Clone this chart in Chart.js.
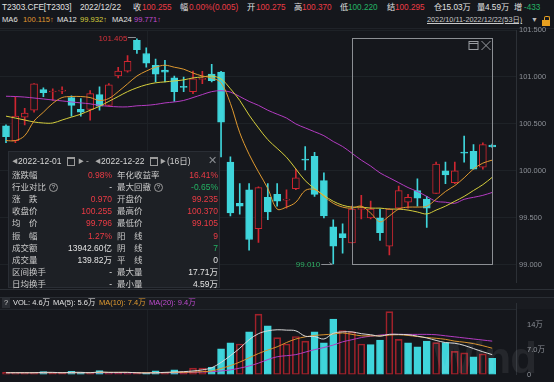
<!DOCTYPE html>
<html><head><meta charset="utf-8">
<script src="https://cdn.jsdelivr.net/npm/chart.js@4"></script>
<style>
body{margin:0;background:#15171c;width:554px;height:382px;overflow:hidden;position:relative;font-family:"Liberation Sans","Noto Sans CJK SC",sans-serif;color:#e2e2e2}
.t{position:absolute;white-space:nowrap;line-height:12px;height:12px}
.h1{font-size:8.2px;top:2px}
.h2{font-size:7.6px;top:14px}
.v{font-size:7.5px;top:297px}
canvas{position:absolute;left:0}
.ln{position:absolute;background:#262a30}
#panel{position:absolute;left:8px;top:151px;width:212px;height:137px;background:#1d2025;border:1px solid #2a2e35;box-sizing:border-box;font-size:8.5px}
.q{display:inline-block;width:7px;height:7px;border:1px solid #9a9a9a;border-radius:50%;font-size:6px;line-height:7px;text-align:center;color:#bbb;margin-left:3px;vertical-align:1px}
.cal{position:absolute;width:6px;height:6px;border:1px solid #9a9a9a;border-top-width:2px}
</style></head><body>

<!-- header -->
<span class="t h1" style="left:2px">T2303.CFE[T2303]</span>
<span class="t h1" style="left:80px">2022/12/22</span>
<span class="t h1" style="left:133px">收</span><span class="t h1" style="left:142px;color:#ec3b45">100.255</span>
<span class="t h1" style="left:180px">幅</span><span class="t h1" style="left:189px;color:#ec3b45">0.00%(0.005)</span>
<span class="t h1" style="left:247px">开</span><span class="t h1" style="left:256px;color:#ec3b45">100.275</span>
<span class="t h1" style="left:294px">高</span><span class="t h1" style="left:302px;color:#ec3b45">100.370</span>
<span class="t h1" style="left:340px">低</span><span class="t h1" style="left:348px;color:#24b364">100.220</span>
<span class="t h1" style="left:387px">结</span><span class="t h1" style="left:395px;color:#ec3b45">100.295</span>
<span class="t h1" style="left:434px">仓</span><span class="t h1" style="left:442px">15.03万</span>
<span class="t h1" style="left:477px">量</span><span class="t h1" style="left:485px">4.59万</span>
<span class="t h1" style="left:514px">增</span><span class="t h1" style="left:524px;color:#24b364">-433</span>

<span class="t h2" style="left:2px">MA6</span><span class="t h2" style="left:23px;color:#e09a30">100.115↑</span>
<span class="t h2" style="left:57px">MA12</span><span class="t h2" style="left:80px;color:#d6cf3c">99.932↑</span>
<span class="t h2" style="left:112px">MA24</span><span class="t h2" style="left:134px;color:#c04bd0">99.771↑</span>
<span class="t h2" style="left:427px;color:#c9c9c9;text-decoration:underline;font-size:7.3px">2022/10/11-2022/12/22(53日)</span>
<span class="t h2" style="left:531px;color:#bbb;font-size:7px">▼</span>
<div style="position:absolute;left:542px;top:20px;width:8px;height:6px;background:#e8a020"></div>
<div style="position:absolute;left:544px;top:16px;width:4px;height:4px;border:1px solid #e8a020;border-bottom:none;border-radius:2px 2px 0 0"></div>

<div class="ln" style="left:0;top:28px;width:554px;height:1px;background:#202329"></div>
<div class="ln" style="left:147px;top:30px;width:1px;height:258px;background:#1d2126"></div>
<div class="ln" style="left:0;top:289px;width:554px;height:1px;background:#2c3036"></div>
<div class="ln" style="left:0;top:297px;width:554px;height:12px;background:#191b20"></div>
<div class="ln" style="left:0;top:297px;width:554px;height:1px;background:#2a2e34"></div>
<div class="ln" style="left:0;top:309px;width:517px;height:1px;background:#23272d"></div>
<div class="ln" style="left:147px;top:310px;width:1px;height:70px;background:#1d2126"></div>

<canvas id="price" width="554" height="268" style="top:22px"></canvas>
<canvas id="vol" width="554" height="86" style="top:296px"></canvas>

<!-- volume header -->
<div style="position:absolute;left:2px;top:298px;width:8px;height:10px;background:#2a2d33"></div>
<span class="t v" style="left:4px;color:#ccc">?</span>
<span class="t v" style="left:13px">VOL: 4.6万</span>
<span class="t v" style="left:53px">MA(5): 5.6万</span>
<span class="t v" style="left:99px;color:#e09a30">MA(10): 7.4万</span>
<span class="t v" style="left:149px;color:#c04bd0">MA(20): 9.4万</span>

<div style="position:absolute;left:433px;top:333px;font-size:44px;font-weight:bold;color:rgba(255,255,255,0.07);letter-spacing:-1px">Wind</div>

<div id="panel"></div>

<script>
// 日期（53个交易日）
const dates = ['10-11','10-12','10-13','10-14','10-17','10-18','10-19','10-20','10-21','10-24','10-25','10-26','10-27','10-28','10-31',
  '11-01','11-02','11-03','11-04','11-07','11-08','11-09','11-10','11-11','11-14','11-15','11-16','11-17','11-18','11-21','11-22','11-23','11-24','11-25','11-28','11-29','11-30',
  '12-01','12-02','12-05','12-06','12-07','12-08','12-09','12-12','12-13','12-14','12-15','12-16','12-19','12-20','12-21','12-22'];
const rangeStart = 37; // 2022-12-01

// K线
const opens = [100.479,100.323,100.573,100.646,100.865,100.84,100.85,100.781,100.656,100.656,100.813,100.698,101.01,101.063,101.39,101.25,101.125,101.073,100.99,100.9,100.844,100.975,101.03,101.052,100.094,99.656,99.80,99.385,99.72,99.75,99.69,99.8125,100.125,100.156,99.896,99.406,99.333,99.235,99.59,99.50,99.50,99.198,99.604,99.667,99.79,99.70,99.76,100.0,99.875,100.2,100.208,100.04,100.275];
const highs = [100.49,100.79,100.667,100.93,100.885,100.875,100.896,100.80,100.77,100.854,100.896,100.93,101.104,101.229,101.405,101.31,101.19,101.177,101.01,101.0,101.063,101.06,101.135,101.06,100.15,99.865,99.865,99.83,99.865,99.865,99.80,100.02,100.26,100.198,99.98,99.479,99.4375,99.625,99.74,99.68,99.594,99.60,99.84,99.75,99.917,99.73,100.094,100.094,100.094,100.37,100.28,100.30,100.285];
const lows = [100.30,100.30,100.49,100.625,100.79,100.75,100.823,100.583,100.583,100.54,100.646,100.69,100.99,101.05,101.25,101.104,100.948,100.948,100.74,100.844,100.823,100.93,100.948,100.15,99.52,99.54,99.156,99.24,99.48,99.625,99.604,99.80,100.01,99.73,99.50,99.010,99.125,99.235,99.49,99.49,99.26,99.105,99.59,99.604,99.625,99.40,99.76,99.865,99.865,100.094,100.02,100.02,100.25];
const closes = [100.365,100.583,100.615,100.927,100.833,100.845,100.855,100.698,100.625,100.823,100.688,100.917,101.063,101.167,101.29,101.146,101.03,101.05,100.844,100.89,100.979,100.985,100.96,100.52,99.552,99.625,99.27,99.823,99.5625,99.677,99.70,99.927,100.115,99.75,99.52,99.198,99.29,99.594,99.60,99.594,99.344,99.594,99.79,99.72,99.71,99.604,100.073,99.958,100.0,100.19,100.02,100.28,100.255];

// 均线
const ma6 = [100.323,100.323,100.375,100.531,100.625,100.719,100.781,100.792,100.792,100.781,100.750,100.771,100.844,100.927,101.010,101.063,101.104,101.125,101.104,101.083,101.042,101.010,100.990,100.938,100.719,100.406,100.177,99.990,99.813,99.594,99.615,99.667,99.792,99.802,99.729,99.656,99.615,99.604,99.625,99.552,99.458,99.521,99.594,99.615,99.615,99.625,99.698,99.781,99.844,99.927,100.021,100.083,100.115];
const ma12 = [100.583,100.563,100.542,100.521,100.510,100.510,100.542,100.573,100.604,100.646,100.688,100.740,100.792,100.844,100.885,100.917,100.938,100.948,100.958,100.969,100.990,101.000,101.010,100.979,100.875,100.750,100.594,100.458,100.333,100.240,100.146,100.021,99.896,99.813,99.740,99.677,99.635,99.615,99.615,99.604,99.604,99.594,99.594,99.583,99.563,99.542,99.583,99.625,99.677,99.729,99.792,99.854,99.932];
const ma24 = [100.795,100.792,100.786,100.776,100.766,100.755,100.745,100.734,100.724,100.714,100.698,100.688,100.682,100.682,100.693,100.698,100.708,100.724,100.734,100.750,100.781,100.813,100.844,100.854,100.839,100.792,100.740,100.698,100.646,100.604,100.563,100.500,100.458,100.417,100.375,100.313,100.260,100.188,100.115,100.052,99.979,99.927,99.875,99.823,99.781,99.729,99.677,99.667,99.656,99.698,99.719,99.740,99.771];

// 成交量（万手）
const vols = [0.6,0.5,0.4,0.6,0.8,0.3,0.3,0.9,0.7,0.4,1.1,0.4,0.3,0.4,0.3,0.6,1.0,0.4,1.3,0.8,1.8,1.8,2.0,7.2,8.9,8.6,12.0,17.0,13.7,10.4,8.6,10.7,9.4,12.0,8.9,15.6,12.4,12.0,8.6,8.4,9.7,17.71,9.9,8.9,7.8,9.4,9.0,9.0,6.5,6.1,5.0,5.8,4.59];
const vma5 = [0.5,0.5,0.5,0.5,0.6,0.6,0.5,0.6,0.6,0.5,0.7,0.6,0.6,0.6,0.5,0.4,0.5,0.6,0.7,0.8,1.0,1.3,1.9,3.4,5.3,7.4,9.8,11.5,12.3,12.6,12.5,12.3,10.8,10.7,10.0,11.6,12.0,12.0,11.5,11.2,10.8,11.3,11.3,11.2,10.8,10.3,9.6,9.0,8.8,8.2,7.3,6.4,5.6];
const vma10 = [0.5,0.5,0.5,0.5,0.5,0.5,0.5,0.5,0.5,0.5,0.6,0.6,0.6,0.6,0.5,0.5,0.5,0.5,0.6,0.6,0.7,0.8,1.0,1.7,2.5,3.5,4.7,5.9,6.9,7.8,9.0,10.0,10.6,11.0,11.2,11.4,11.7,11.3,10.9,10.9,10.9,11.1,11.2,11.0,10.7,10.4,10.2,9.9,9.4,9.1,8.7,8.1,7.4];
const vma20 = [0.5,0.5,0.5,0.5,0.5,0.5,0.5,0.5,0.5,0.5,0.5,0.5,0.5,0.5,0.5,0.5,0.5,0.5,0.5,0.5,0.6,0.7,0.8,1.0,1.3,1.8,2.4,3.2,4.2,5.0,5.3,5.6,6.3,7.0,7.6,8.3,9.2,9.8,10.4,10.8,11.1,11.3,11.3,11.3,11.3,11.3,11.2,10.9,10.6,10.3,10.0,9.7,9.4];

// 刻度
const priceTicks = [99.0, 99.5, 100.0, 100.5, 101.0, 101.5];
const volTicks = [0, 7, 14];
const volTickLabels = ['0', '7.0万', '14万'];

const RED = '#cf2630', CYAN = '#3fd5db', BG = '#15171c', VRED = '#a0212a';
const fam = '"Liberation Sans","Noto Sans CJK SC",sans-serif';
Chart.defaults.font.family = fam;
Chart.defaults.animation = false;

const pts = arr => arr.map((v, i) => ({ x: i, y: v }));
const up = closes.map((c, i) => c >= opens[i]);
const volUp = closes.map((c, i) => i === 0 || c >= closes[i - 1]);

// x 轴布局
const X_MIN = -0.642, X_MAX = 54.545;
const xScale = { type: 'linear', min: X_MIN, max: X_MAX, display: false, offset: false, grid: { display: false } };

const line = (label, arr, color) => ({
  type: 'line', label, data: pts(arr), borderColor: color, borderWidth: 1,
  pointRadius: 0, tension: 0.35, order: 0
});

// 区间框、最高/最低标注
const marks = {
  id: 'marks',
  afterDatasetsDraw(chart) {
    const { ctx, scales: { x, y } } = chart;
    const hi = Math.max(...highs), lo = Math.min(...lows);
    const x0 = Math.round(x.getPixelForValue(rangeStart)) + 0.5;
    const x1 = Math.round(x.getPixelForValue(dates.length - 1)) + 0.5;
    const y0 = Math.round(y.getPixelForValue(hi)) - 0.5;
    const y1 = Math.round(y.getPixelForValue(lo)) + 0.5;
    ctx.save();
    ctx.strokeStyle = '#8c8f94';
    ctx.lineWidth = 1;
    ctx.strokeRect(x0, y0, x1 - x0, y1 - y0);
    // 图标
    ctx.strokeStyle = '#9a9da2';
    ctx.strokeRect(x1 - 23.5, y0 + 3, 9, 8);
    ctx.beginPath();
    ctx.moveTo(x1 - 23.5, y0 + 5); ctx.lineTo(x1 - 14.5, y0 + 5);
    ctx.moveTo(x1 - 11, y0 + 2.5); ctx.lineTo(x1 - 2, y0 + 11.5);
    ctx.moveTo(x1 - 2, y0 + 2.5); ctx.lineTo(x1 - 11, y0 + 11.5);
    ctx.stroke();

    ctx.font = '8px ' + fam;
    ctx.textAlign = 'right';
    ctx.textBaseline = 'middle';
    const ih = highs.indexOf(hi), il = lows.indexOf(lo);
    let px = x.getPixelForValue(ih), py = Math.round(y.getPixelForValue(hi)) - 1.5;
    ctx.strokeStyle = '#8c8f94';
    ctx.beginPath(); ctx.moveTo(px - 9, py); ctx.lineTo(px - 1, py); ctx.stroke();
    ctx.fillStyle = '#d8323b';
    ctx.fillText(hi.toFixed(3), px - 9.5, py + 1);

    px = x.getPixelForValue(il); py = Math.round(y.getPixelForValue(lo)) + 0.5;
    ctx.beginPath();
    ctx.moveTo(px - 12, py); ctx.lineTo(px - 1, py);
    ctx.moveTo(px - 1, py); ctx.lineTo(px - 4, py - 2);
    ctx.stroke();
    ctx.fillStyle = '#2fae64';
    ctx.fillText(lo.toFixed(3), px - 13, py);
    ctx.restore();
  }
};

new Chart(document.getElementById('price'), {
  type: 'bar',
  data: {
    datasets: [
      line('MA6', ma6, '#e09a30'),
      line('MA12', ma12, '#d6cf3c'),
      line('MA24', ma24, '#b43cc2'),
      {
        label: 'body', data: opens.map((o, i) => ({ x: i, y: [o, closes[i]] })),
        backgroundColor: up.map(u => u ? BG : CYAN), borderColor: up.map(u => u ? RED : CYAN),
        borderWidth: 1, borderSkipped: false, barThickness: 7, minBarLength: 1, grouped: false, order: 1
      },
      {
        label: 'wick', data: lows.map((l, i) => ({ x: i, y: [l, highs[i]] })),
        backgroundColor: up.map(u => u ? RED : CYAN), barThickness: 1, grouped: false, order: 2
      }
    ]
  },
  options: {
    responsive: false,
    layout: { padding: { top: 8, bottom: 2, left: 0, right: 0 } },
    plugins: { legend: { display: false }, tooltip: { enabled: false } },
    scales: {
      x: xScale,
      y: {
        position: 'right', min: 98.8125, max: 101.5,
        afterFit: s => { s.width = 38; },
        afterBuildTicks: s => { s.ticks = priceTicks.map(v => ({ value: v })); },
        ticks: { color: '#8c9097', font: { size: 7.5 }, padding: 3, callback: v => Number(v).toFixed(3) },
        grid: { color: '#1e2227', drawTicks: false },
        border: { display: true, color: '#2c3036' }
      }
    }
  },
  plugins: [marks]
});

new Chart(document.getElementById('vol'), {
  type: 'bar',
  data: {
    datasets: [
      line('MA5', vma5, '#d9d9d9'),
      line('MA10', vma10, '#d9932e'),
      line('MA20', vma20, '#b43cc2'),
      {
        label: 'VOL', data: pts(vols),
        backgroundColor: volUp.map(u => u ? 'rgba(0,0,0,0)' : CYAN),
        borderColor: volUp.map(u => u ? VRED : CYAN),
        borderWidth: 1, borderSkipped: false, barThickness: 7, grouped: false, order: 1
      }
    ]
  },
  options: {
    responsive: false,
    layout: { padding: { top: 4, bottom: 3, left: 0, right: 0 } },
    plugins: { legend: { display: false }, tooltip: { enabled: false } },
    scales: {
      x: xScale,
      y: {
        position: 'right', min: 0, max: 20,
        afterFit: s => { s.width = 38; },
        afterBuildTicks: s => { s.ticks = volTicks.map(v => ({ value: v })); },
        ticks: { color: '#8c9097', font: { size: 7.5 }, padding: 3, callback: v => volTickLabels[volTicks.indexOf(v)] },
        grid: { display: false },
        border: { display: true, color: '#2c3036' }
      }
    }
  }
});

// 区间统计面板
const R = '#ec3b45', G = '#24b364', W = '#e2e2e2';
const rows = [
  ['涨跌幅', '0.98%', R, '年化收益率', '16.41%', R],
  ['行业对比?', '-', W, '最大回撤?', '-0.65%', G],
  ['涨　跌', '0.970', R, '开盘价', '99.235', R],
  ['收盘价', '100.255', R, '最高价', '100.370', R],
  ['均　价', '99.796', R, '最低价', '99.105', R],
  ['振　幅', '1.27%', R, '阳　线', '9', R],
  ['成交额', '13942.60亿', W, '阴　线', '7', G],
  ['成交量', '139.82万', W, '平　线', '0', W],
  ['区间换手', '-', W, '最大量', '17.71万', W],
  ['日均换手', '-', W, '最小量', '4.59万', W]
];
const lab = s => s.endsWith('?') ? s.slice(0, -1) + '<span class="q">?</span>' : s;
let html = '';
html += '<span class="t" style="left:3px;top:3px;font-size:6px;color:#aaa">◀</span>';
html += '<span class="t" style="left:9px;top:3px;font-size:8.5px;color:#d6d6d6">2022-12-01</span>';
html += '<div class="cal" style="left:58px;top:5px"></div>';
html += '<span class="t" style="left:69px;top:3px;font-size:6px;color:#aaa">▶</span>';
html += '<span class="t" style="left:77px;top:3px;font-size:8.5px;color:#aaa">-</span>';
html += '<span class="t" style="left:86px;top:3px;font-size:6px;color:#aaa">◀</span>';
html += '<span class="t" style="left:92px;top:3px;font-size:8.5px;color:#d6d6d6">2022-12-22</span>';
html += '<div class="cal" style="left:141px;top:5px"></div>';
html += '<span class="t" style="left:151px;top:3px;font-size:6px;color:#aaa">▶</span>';
html += '<span class="t" style="left:158px;top:3px;font-size:8.5px;color:#cfcfcf">(16日)</span>';
html += '<span class="t" style="left:199px;top:2px;font-size:11px;color:#8a8d92">✕</span>';
rows.forEach((r, i) => {
  const top = (16.5 + i * 12.2).toFixed(1);
  html += `<span class="t" style="left:3px;top:${top}px;color:#c9c9c9">${lab(r[0])}</span>`;
  html += `<span class="t" style="left:40px;width:63px;text-align:right;top:${top}px;color:${r[2]}">${r[1]}</span>`;
  html += `<span class="t" style="left:108px;top:${top}px;color:#c9c9c9">${lab(r[3])}</span>`;
  html += `<span class="t" style="left:140px;width:69px;text-align:right;top:${top}px;color:${r[5]}">${r[4]}</span>`;
});
document.getElementById('panel').innerHTML = html;
</script>
</body></html>
